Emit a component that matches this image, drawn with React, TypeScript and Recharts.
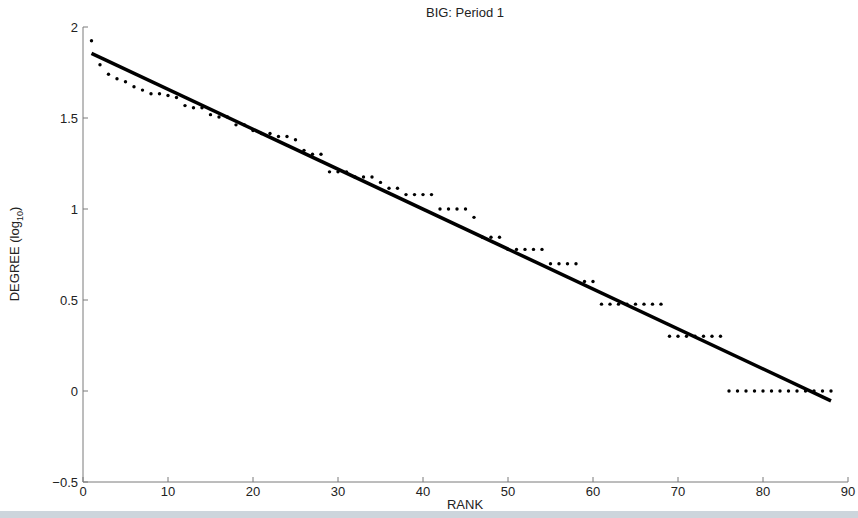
import {
    ComposedChart,
    Line,
    Scatter,
    XAxis,
    YAxis,
} from "recharts";

// node degree for ranks 1..88 (largest first)
const ranks: number[] = Array.from({length: 88}, (_, i) => i + 1);
const degrees: number[] = [
    84, 62, 55, 52, 50, 47, 45, 43, 43, 42,
    41, 37, 36, 36, 33, 32, 32, 29, 29, 27,
    26, 26, 25, 25, 24, 21, 20, 20, 16, 16,
    16, 15, 15, 15, 14, 13, 13, 12, 12, 12,
    12, 10, 10, 10, 10, 9, 7, 7, 7, 6,
    6, 6, 6, 6, 5, 5, 5, 5, 4, 4,
    3, 3, 3, 3, 3, 3, 3, 3, 2, 2,
    2, 2, 2, 2, 2, 1, 1, 1, 1, 1,
    1, 1, 1, 1, 1, 1, 1, 1,
];
// least-squares fit, end points
const fitRanks: number[] = [1, 88];
const fitValues: number[] = [1.855, -0.054];

const xTicks: number[] = [0, 10, 20, 30, 40, 50, 60, 70, 80, 90];
const yTicks: number[] = [-0.5, 0, 0.5, 1, 1.5, 2];

const rows = ranks.map((rank, i) => {
    const f = fitRanks.indexOf(rank);
    return {
        rank,
        logDegree: Math.log10(degrees[i]),
        fit: f >= 0 ? fitValues[f] : null,
    };
});

const FONT = "'Liberation Sans', Arial, sans-serif";
const AXIS = "#7a7a7a";

const fmt = (v: number) => String(v).replace("-", "\u2212");

const XTick = (props: any) => {
    const {x, y, payload} = props;
    return (
        <g>
            <line x1={x} y1={y} x2={x} y2={y - 5} stroke={AXIS} strokeWidth={1}/>
            <text x={x} y={y + 14} textAnchor="middle" fontSize={13} fontFamily={FONT} fill="#222">
                {fmt(payload.value)}
            </text>
        </g>
    );
};

const YTick = (props: any) => {
    const {x, y, payload} = props;
    return (
        <g>
            <line x1={x} y1={y} x2={x + 5} y2={y} stroke={AXIS} strokeWidth={1}/>
            <text x={x - 5} y={y + 5} textAnchor="end" fontSize={13} fontFamily={FONT} fill="#222">
                {fmt(payload.value)}
            </text>
        </g>
    );
};

const Dot = (props: any) => {
    const {cx, cy} = props;
    return <circle cx={cx} cy={cy} r={1.7} fill="#000"/>;
};

const App = () => {
    return (
        <div style={{position: "fixed", left: 0, top: 0, width: 858, height: 518, background: "#fff"}}>
            <ComposedChart
                width={858}
                height={518}
                data={rows}
                margin={{top: 27, right: 10, bottom: 0, left: 0}}
            >
                <XAxis
                    type="number"
                    dataKey="rank"
                    domain={[0, 90]}
                    ticks={xTicks}
                    height={36}
                    tickSize={0}
                    tickMargin={0}
                    tickLine={false}
                    axisLine={{stroke: AXIS}}
                    tick={<XTick/>}
                    interval={0}
                />
                <YAxis
                    type="number"
                    domain={[-0.5, 2]}
                    ticks={yTicks}
                    width={83}
                    tickSize={0}
                    tickMargin={0}
                    tickLine={false}
                    axisLine={{stroke: AXIS}}
                    tick={<YTick/>}
                    interval={0}
                />
                <Scatter dataKey="logDegree" fill="#000" shape={<Dot/>} isAnimationActive={false}/>
                <Line
                    dataKey="fit"
                    stroke="#000"
                    strokeWidth={3.5}
                    dot={false}
                    activeDot={false}
                    connectNulls
                    isAnimationActive={false}
                />
                <text x={465} y={17} textAnchor="middle" fontSize={13} fontFamily={FONT} fill="#222">
                    BIG: Period 1
                </text>
                <text x={465} y={509} textAnchor="middle" fontSize={13} fontFamily={FONT} fill="#222">
                    RANK
                </text>
                <text
                    transform="translate(19, 254) rotate(-90)"
                    textAnchor="middle"
                    fontSize={13}
                    fontFamily={FONT}
                    fill="#222"
                >
                    DEGREE (log
                    <tspan fontSize={9} dy={4}>10</tspan>
                    <tspan dy={-4}>)</tspan>
                </text>
            </ComposedChart>
            <div style={{position: "absolute", left: 0, bottom: 0, width: 858, height: 7, background: "#cdd5dc"}}/>
        </div>
    );
};

export default App;
